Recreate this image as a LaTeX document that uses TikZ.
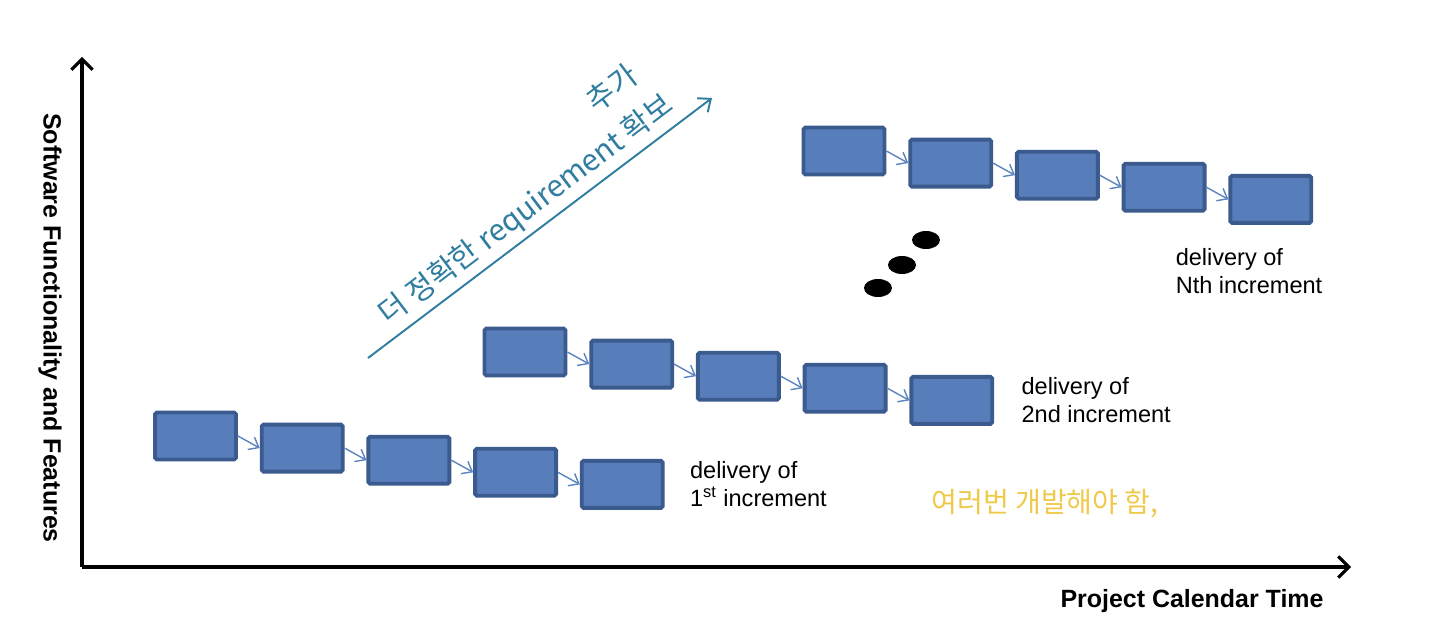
\documentclass[tikz,border=0pt]{standalone}
\usepackage{fontspec}
\setmainfont{Liberation Sans}
\newfontfamily\kofont{Noto Sans CJK KR}
\usetikzlibrary{arrows.meta,positioning}

\definecolor{boxfill}{HTML}{587DBB}
\definecolor{boxline}{HTML}{3B5B8E}
\definecolor{linkblue}{HTML}{5B84BF}
\definecolor{penblue}{HTML}{2F7D9F}
\definecolor{penyellow}{HTML}{EFC94A}

\tikzset{
  incbox/.style={draw=boxline, fill=boxfill, line width=2.2pt, rounded corners=1pt,
    minimum width=1.62cm, minimum height=0.94cm, inner sep=0pt},
  link/.style={-{Straight Barb[length=5pt,width=8pt]}, draw=linkblue, line width=0.8pt},
  axis/.style={-{Straight Barb[length=6pt,width=12pt,line width=1.8pt]}, line width=1.8pt},
  deliv/.style={align=left, anchor=west, inner sep=0pt, font=\fontsize{13.4}{16}\selectfont},
  axislabel/.style={font=\bfseries\fontsize{14.2}{16}\selectfont, inner sep=0pt},
  pen/.style={draw=penblue, line width=1.1pt, -{Straight Barb[length=6pt,width=10pt]}},
  note/.style={inner sep=0pt, font=\kofont\fontsize{17}{19}\selectfont}
}

\begin{document}
\begin{tikzpicture}[x=0.02cm, y=-0.02cm]
  \useasboundingbox (0,0) rectangle (1440,631);

  % axes
  \coordinate (o) at (82,567);
  \coordinate (ytop) at (82,57);
  \coordinate (xend) at (1351,567);
  \draw[axis] (o) -- (ytop);
  \draw[axis] (o) -- (xend);
  \node[axislabel, rotate=-90] (ylab) at (50,328) {Software Functionality and Features};
  \node[axislabel] (xlab) at (1192,601) {Project Calendar Time};

  % increments
  \foreach \g/\x/\y in {a/195.5/436, b/525/352, c/844/151}{
    \foreach \i in {1,...,5}
      \node[incbox] (\g\i) at ({\x+(\i-1)*106.7},{\y+(\i-1)*12.1}) {};
    \foreach \i/\j in {1/2,2/3,3/4,4/5}
      \draw[link] (\g\i.east) -- (\g\j.west);
  }

  \node[deliv, right=0.5cm of a5] (d1) {delivery of\\1\textsuperscript{st} increment};
  \node[deliv, right=0.54cm of b5] (d2) {delivery of\\2nd increment};
  \node[deliv, anchor=north west] (dn) at ([xshift=-1.06cm,yshift=-0.46cm]c5.south west)
    {delivery of\\Nth increment};

  % dots
  \fill (878,288) ellipse [x radius=0.28cm, y radius=0.18cm];
  \fill (902,265) ellipse [x radius=0.28cm, y radius=0.18cm];
  \fill (926,240) ellipse [x radius=0.28cm, y radius=0.18cm];

  % notes
  \coordinate (p1) at (368,358);
  \coordinate (p2) at (712,98);
  \draw[pen] (p1) -- node[note, text=penblue, sloped, above=3pt, pos=0.5] (req)
    {더 정확한 requirement 확보} (p2);
  \node[note, text=penblue, rotate=37] (add) at (612,88) {추가};
  \node[note, text=penyellow, font=\kofont\fontsize{16}{18}\selectfont] (dev) at (1045,503)
    {여러번 개발해야 함,};
\end{tikzpicture}
\end{document}
